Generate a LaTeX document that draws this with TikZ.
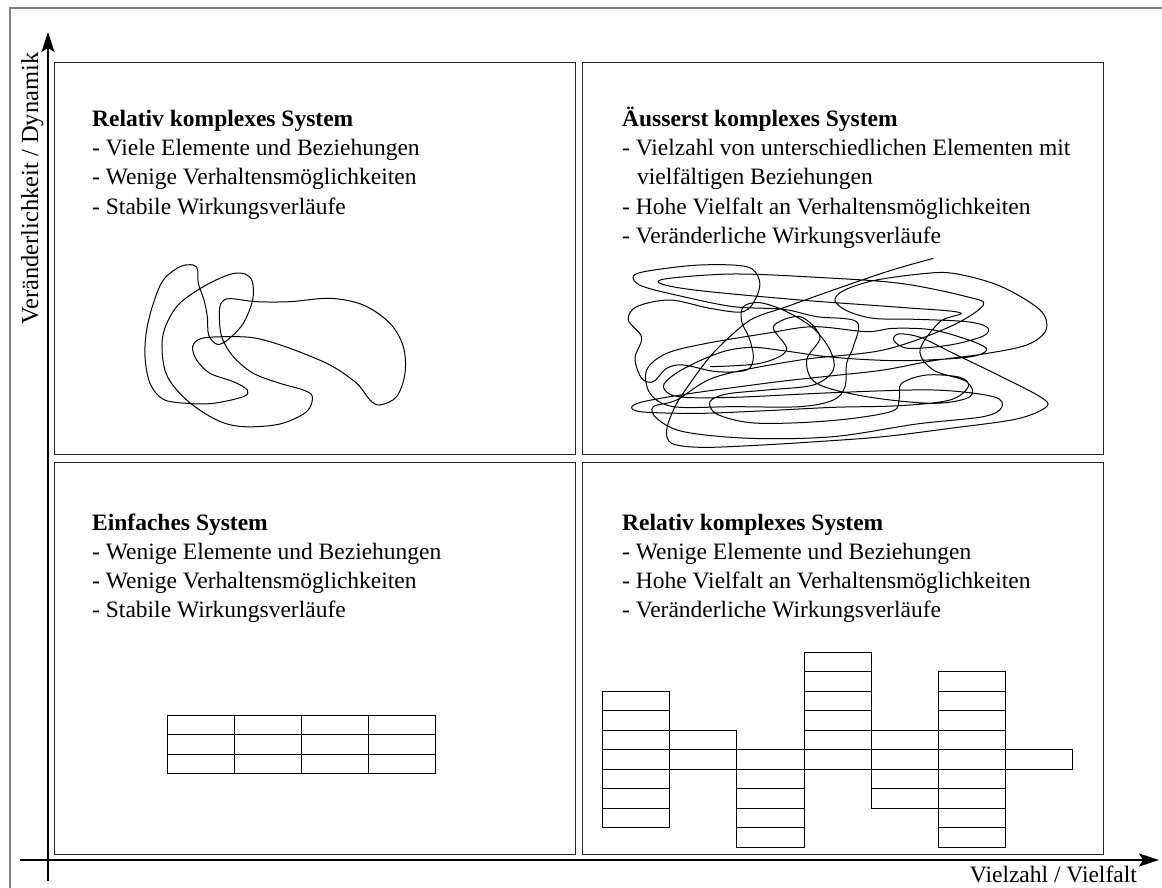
\documentclass[tikz,border=0pt]{standalone}
\usepackage{fontspec}
\setmainfont{Liberation Serif}
\usetikzlibrary{arrows.meta}
\begin{document}
\begin{tikzpicture}[x=1pt,y=-1pt,
  quad/.style={draw=black!85, line width=1.2pt, anchor=north west, inner sep=0pt,
    minimum width=521pt, minimum height=392pt},
  txt/.style={anchor=base west, inner sep=0pt, font=\fontsize{23.5}{29}\selectfont},
  ttl/.style={txt, font=\fontsize{23.5}{29}\selectfont\bfseries},
  axis/.style={line width=1.6pt, -{Stealth[length=20pt,width=13pt,inset=4pt]}},
  cell/.style={line width=1pt, draw=black},
  scribble/.style={line width=1pt, black}]
\useasboundingbox (0,0) rectangle (1162,888);

% outer frame
\draw[gray, line width=1.2pt] (10,888) -- (10,8) -- (1162,8);

% the four quadrants
\node[quad] (tl) at (54,62) {};
\node[quad] (tr) at (582,62) {};
\node[quad] (bl) at (54,462) {};
\node[quad] (br) at (582,462) {};

% axes
\coordinate (ybot) at (48,881);
\coordinate (ytop) at (48,32);
\coordinate (xleft) at (20,860);
\coordinate (xright) at (1159,860);
\draw[axis] (ybot) -- (ytop);
\draw[axis] (xleft) -- (xright);
\node[txt, anchor=base east] (xlabel) at (1137,882) {Vielzahl / Vielfalt};
\node[txt, rotate=90, font=\fontsize{24.5}{29}\selectfont] (ylabel) at (38,325) {Veränderlichkeit / Dynamik};

% texts, upper left
\node[ttl] (tl0) at (92,127) {Relativ komplexes System};
\node[txt] (tl1) at (92,156) {- Viele Elemente und Beziehungen};
\node[txt] (tl2) at (92,185) {- Wenige Verhaltensmöglichkeiten};
\node[txt] (tl3) at (92,214) {- Stabile Wirkungsverläufe};

% texts, upper right
\node[ttl] (tr0) at (622,127) {Äusserst komplexes System};
\node[txt] (tr1) at (622,156) {- Vielzahl von unterschiedlichen Elementen mit};
\node[txt] (tr1b) at (637,185) {vielfältigen Beziehungen};
\node[txt] (tr2) at (622,214) {- Hohe Vielfalt an Verhaltensmöglichkeiten};
\node[txt] (tr3) at (622,243) {- Veränderliche Wirkungsverläufe};

% texts, lower left
\node[ttl] (bl0) at (92,530) {Einfaches System};
\node[txt] (bl1) at (92,559) {- Wenige Elemente und Beziehungen};
\node[txt] (bl2) at (92,588) {- Wenige Verhaltensmöglichkeiten};
\node[txt] (bl3) at (92,617) {- Stabile Wirkungsverläufe};

% texts, lower right
\node[ttl] (br0) at (622,530) {Relativ komplexes System};
\node[txt] (br1) at (622,559) {- Wenige Elemente und Beziehungen};
\node[txt] (br2) at (622,588) {- Hohe Vielfalt an Verhaltensmöglichkeiten};
\node[txt] (br3) at (622,617) {- Veränderliche Wirkungsverläufe};

% simple system: regular grid 4 x 3
\foreach \c in {0,...,3}
  \foreach \r in {0,...,2}
    \draw[cell] ({167+67.1*\c},{715+19.5*\r}) rectangle ++(67.1,19.5);

% lower right: columns of cells, {column/first row/last row}
\foreach \c/\a/\b in {0/2/8, 1/4/5, 2/5/9, 3/0/5, 4/4/7, 5/1/9, 6/5/5}
  \foreach \r in {\a,...,\b}
    \draw[cell] ({602.7+67.14*\c},{652+19.53*\r}) rectangle ++(67.14,19.53);

% upper left: one closed loop
\begin{scope}[shift={(130,250)}, scale=1/3]
\draw[scribble] plot[smooth cycle, tension=0.55] coordinates {
 (190,45) (203,60) (205,100) (222,150) (232,200) (236,255) (262,283) (295,268)
 (340,220) (368,150) (367,95) (345,72) (300,73) (220,110) (140,170) (98,260)
 (108,370) (170,450) (260,510) (340,530) (450,522) (530,485) (547,440) (520,420)
 (450,400) (370,370) (310,320) (275,260) (268,190) (275,157) (300,146) (380,155)
 (480,155) (600,145) (700,165) (780,220) (820,290) (825,370) (800,440) (750,465)
 (720,450) (680,400) (600,345) (480,295) (380,265) (300,260) (215,265) (188,290)
 (200,330) (240,370) (310,395) (352,420) (340,440) (250,460) (170,460) (100,448)
 (60,400) (45,320) (50,240) (70,160) (100,90) (150,50)};
\end{scope}

% upper right: one long tangled line
\begin{scope}[shift={(600,250)}, scale=1/3]
\draw[scribble] plot[smooth, tension=0.55] coordinates {
 (1000,25) (870,62) (700,120) (560,170) (460,205) (395,255) (330,320) (270,400)
 (225,470) (200,540) (215,580) (300,592) (450,587) (650,575) (850,560) (1050,535)
 (1250,507) (1340,470) (1320,440) (1200,378) (1060,310) (960,262) (895,252) (882,272)
 (925,295) (1050,285) (1150,258) (1162,232) (1100,215) (950,208) (820,205) (740,182)
 (705,152) (730,122) (820,92) (960,72) (1060,70) (1200,108) (1320,180) (1338,240)
 (1280,285) (1150,312) (1000,332) (850,360) (700,377) (560,392) (420,410) (260,432)
 (130,455) (95,472) (130,486) (300,490) (500,482) (700,472) (900,467) (1050,450)
 (1105,410) (1080,382) (980,375) (905,400) (898,445) (880,482) (760,505) (600,518)
 (450,518) (350,492) (330,455) (380,432) (500,420) (640,405) (700,360) (690,300)
 (640,235) (560,185) (480,158) (430,170) (425,215) (448,265) (460,322) (440,360)
 (350,365) (250,345) (200,355) (160,395) (125,385) (105,325) (125,262) (85,210)
 (110,170) (210,150) (330,175) (430,185) (470,140) (478,90) (440,50) (300,45)
 (150,62) (100,78) (125,108) (250,140) (400,170) (550,178) (650,200) (770,215)
 (760,290) (740,340) (735,410) (700,450) (600,470) (400,470) (220,470) (150,430)
 (140,360) (200,310) (320,280) (500,250) (640,230) (800,245) (880,235)
 (1000,240) (1120,275) (1160,300) (1100,322) (900,332) (700,322) (550,302)
 (460,292) (380,302) (300,332) (225,372) (190,410) (235,440) (400,442) (700,428)
 (1000,420) (1180,440) (1205,472) (1150,500) (950,522) (700,560) (450,565)
 (250,545) (170,505) (160,470) (230,450) (350,380) (600,330) (850,300)
 (1050,230) (1150,165) (1100,140) (900,100) (650,82) (400,72) (200,86)
 (185,102) (300,122) (600,150) (900,172) (1080,188) (1020,215) (960,300)
 (1000,360) (1100,395) (1110,440) (1000,460) (800,440) (650,400) (620,330)
 (660,260) (600,200) (520,230) (560,300) (480,340) (330,350)};
\end{scope}
\end{tikzpicture}
\end{document}
